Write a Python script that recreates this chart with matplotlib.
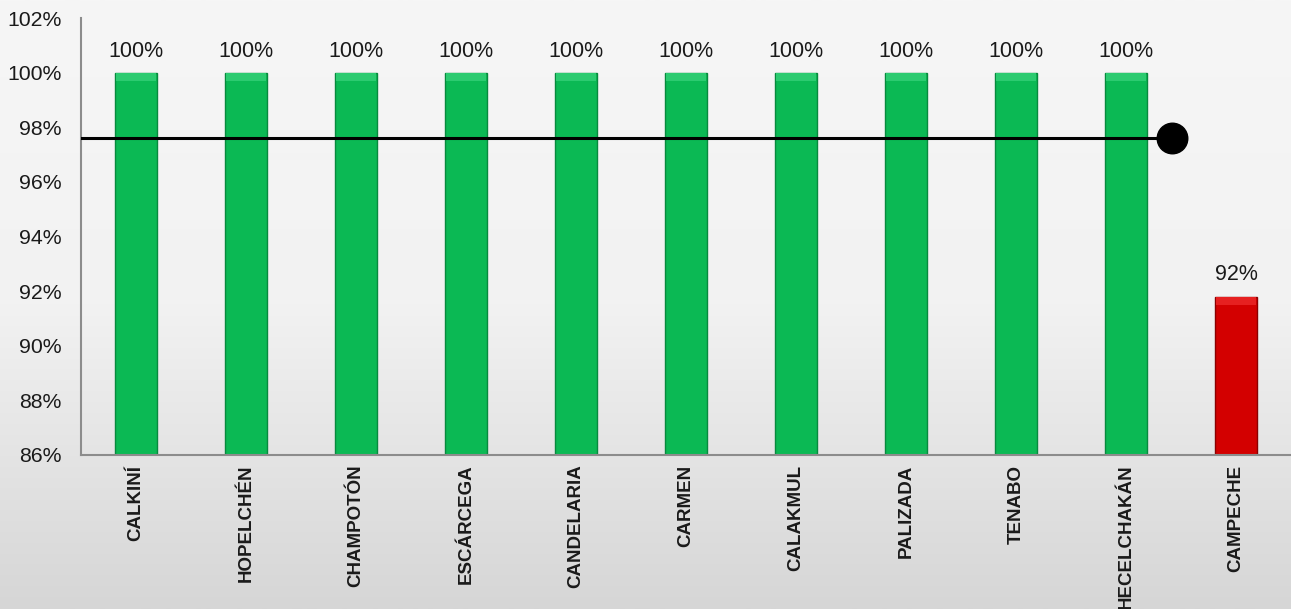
import matplotlib
matplotlib.use("Agg")
import matplotlib.pyplot as plt
import numpy as np
from matplotlib.ticker import FuncFormatter
from matplotlib.colors import LinearSegmentedColormap

categories = ["CALKINÍ", "HOPELCHÉN", "CHAMPOTÓN", "ESCÁRCEGA", "CANDELARIA",
              "CARMEN", "CALAKMUL", "PALIZADA", "TENABO", "HECELCHAKÁN", "CAMPECHE"]
values = [100, 100, 100, 100, 100, 100, 100, 100, 100, 100, 91.8]
labels = ["100%"] * 10 + ["92%"]
bar_colors = ["#0bb954"] * 10 + ["#d30000"]
edge_colors = ["#078a3e"] * 10 + ["#8a0000"]
top_colors = ["#2ccb70"] * 10 + ["#e62020"]

target_x = [-0.5, 9.42]
target_y = [97.6, 97.6]

yticks = [86, 88, 90, 92, 94, 96, 98, 100, 102]

plt.rcParams['font.family'] = ['Liberation Sans', 'DejaVu Sans']

fig = plt.figure(figsize=(12.91, 6.09), dpi=100)

# background gradient
bg = fig.add_axes([0, 0, 1, 1], zorder=-10)
grad = np.linspace(0, 1, 256).reshape(-1, 1)
cmap = LinearSegmentedColormap.from_list("bg", ["#f6f6f6", "#f2f2f2", "#d6d6d6"])
bg.imshow(grad, aspect="auto", cmap=cmap, extent=[0, 1, 0, 1], origin="upper")
bg.set_axis_off()

ax = fig.add_axes([81/1291, 1-455/609, 1-81/1291, (455-18)/609])
ax.patch.set_alpha(0)

x = np.arange(len(categories))
ax.bar(x, [v - 86 for v in values], bottom=86, width=0.39, color=bar_colors,
       edgecolor=edge_colors, linewidth=1.0, zorder=2)
# bevel highlight at the top of each bar
ax.bar(x, [0.3] * len(values), bottom=[v - 0.3 for v in values], width=0.36,
       color=top_colors, linewidth=0, zorder=3)

for xi, v, lab in zip(x, values, labels):
    ax.annotate(lab, (xi, v), xytext=(0, 8), textcoords="offset points",
                ha="center", va="bottom", fontsize=15.5, color="#1a1a1a")

ax.plot(target_x, target_y, color="black", linewidth=2.2, zorder=4)
ax.plot(target_x[-1:], target_y[-1:], marker="o", markersize=22, color="black",
        linestyle="none", zorder=5, clip_on=False)

ax.set_xlim(-0.5, len(categories) - 0.5)
ax.set_ylim(86, 102)
ax.set_yticks(yticks)
ax.yaxis.set_major_formatter(FuncFormatter(lambda v, p: f"{v:.0f}%"))
ax.tick_params(axis="y", length=0, pad=14, labelsize=15.3, labelcolor="#1a1a1a")
ax.set_xticks(x)
ax.set_xticklabels(categories, rotation=90, fontweight="bold", fontsize=13.5,
                   va="top", ha="center", color="#1a1a1a")
ax.tick_params(axis="x", length=0, pad=7)

for s in ["top", "right"]:
    ax.spines[s].set_visible(False)
ax.spines["left"].set_color("#8c8c8c")
ax.spines["bottom"].set_color("#8c8c8c")
ax.spines["left"].set_linewidth(1.5)
ax.spines["bottom"].set_linewidth(1.5)

fig.savefig("out.png", dpi=100)
